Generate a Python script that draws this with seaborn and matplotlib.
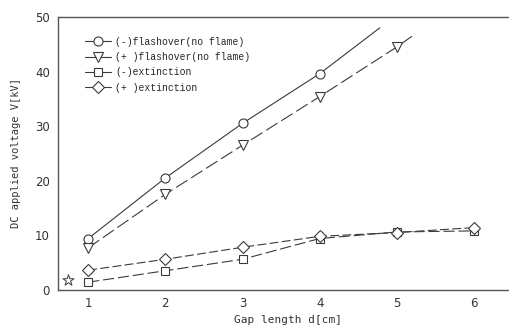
import pandas as pd
import seaborn as sns

from matplotlib import pyplot as plt

# gap length [cm]
GAP = [1, 2, 3, 4, 5, 6]

# (-) flashover: last point is where the drawn line stops (no marker)
NEG_FLASH_X = [1, 2, 3, 4, 4.78]
NEG_FLASH_Y = [9.4, 20.5, 30.5, 39.6, 48.0]

# (+) flashover: last point is where the drawn line stops (no marker)
POS_FLASH_X = [1, 2, 3, 4, 5, 5.2]
POS_FLASH_Y = [7.7, 17.5, 26.5, 35.4, 44.5, 46.5]

NEG_EXT_Y = [1.4, 3.5, 5.6, 9.4, 10.6, 10.8]
POS_EXT_Y = [3.6, 5.6, 7.8, 9.8, 10.5, 11.4]

STAR_X = [0.74]
STAR_Y = [1.8]

LABELS = ['(-)flashover(no flame)', '(+ )flashover(no flame)',
          '(-)extinction', '(+ )extinction']

X_TICKS = [1, 2, 3, 4, 5, 6]
Y_TICKS = [0, 10, 20, 30, 40, 50]

LINE_COLOR = '#3a3a3a'


def main():
    sns.set_style('white')
    plt.rcParams['font.family'] = ['DejaVu Sans']

    fig = plt.figure(figsize=(5.1, 3.32), dpi=100)
    ax = fig.add_axes([0.114, 0.127, 0.9, 0.822])

    line_kw = dict(markerfacecolor='white', markeredgecolor=LINE_COLOR,
                   markeredgewidth=0.8, color=LINE_COLOR, linewidth=0.8)

    # x, y, marker, dashes, markersize, marked points
    series = [
        (NEG_FLASH_X, NEG_FLASH_Y, 'o', None, 6.5, [0, 1, 2, 3]),
        (POS_FLASH_X, POS_FLASH_Y, 'v', (12, 4), 7, [0, 1, 2, 3, 4]),
        (GAP, NEG_EXT_Y, 's', (10, 3.5), 6, None),
        (GAP, POS_EXT_Y, 'D', (8, 3), 6, None),
    ]
    for (xs, ys, mk, dash, ms, every), label in zip(series, LABELS):
        df = pd.DataFrame({'x': xs, 'y': ys})
        sns.lineplot(x='x', y='y', data=df, ax=ax, sort=False, estimator=None,
                     marker=mk, markersize=ms, markevery=every,
                     label=label, **line_kw)
        if dash is not None:
            ax.get_lines()[-1].set_dashes(dash)

    # the lone star near the origin
    star = pd.DataFrame({'x': STAR_X, 'y': STAR_Y})
    sns.scatterplot(x='x', y='y', data=star, ax=ax, marker='*', s=70,
                    facecolor='white', edgecolor=LINE_COLOR, linewidth=0.7,
                    legend=False, zorder=3)

    ax.set_xlim(0.61, 6.56)
    ax.set_ylim(0, 50)
    ax.set_xticks(X_TICKS)
    ax.set_yticks(Y_TICKS)
    ax.tick_params(direction='in', length=7, width=0.8, color='#555555',
                   labelsize=8.5, labelcolor='#333333')
    ax.tick_params(axis='x', pad=5)
    ax.tick_params(axis='y', pad=6)

    for side in ('top', 'left', 'bottom'):
        ax.spines[side].set_color('#555555')
        ax.spines[side].set_linewidth(1.0)
    ax.spines['right'].set_visible(False)

    ax.set_xlabel('Gap length d[cm]', family='DejaVu Sans Mono', fontsize=8,
                  color='#333333', labelpad=4)
    ax.set_ylabel('DC applied voltage V[kV]', family='DejaVu Sans Mono', fontsize=7.5,
                  color='#333333', labelpad=10)

    leg = ax.legend(loc='upper left', bbox_to_anchor=(0.04, 0.96), frameon=False,
                    prop={'family': 'Liberation Mono', 'size': 7},
                    handlelength=2.6, labelspacing=0.55, handletextpad=0.5)
    for h in leg.legend_handles:
        h.set_linestyle('-')

    fig.savefig('out.png', dpi=100)


if __name__ == '__main__':
    main()
